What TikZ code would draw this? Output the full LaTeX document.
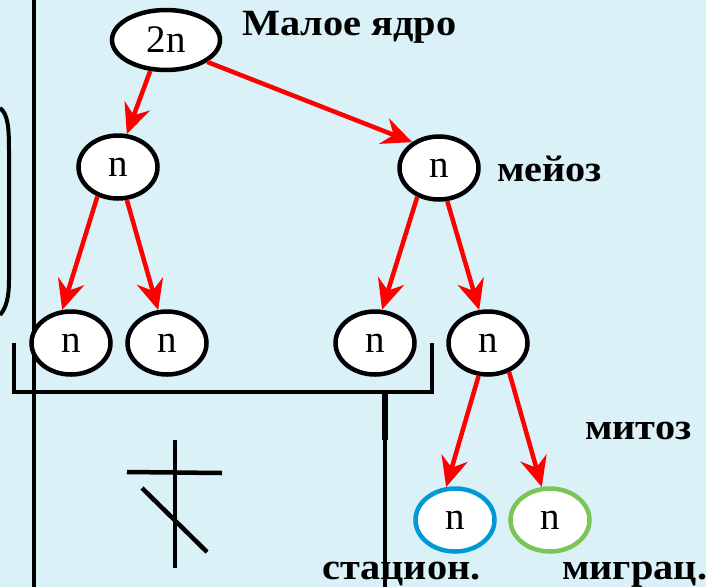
\documentclass[tikz,border=0pt]{standalone}
\usepackage{fontspec}
\setmainfont{Liberation Serif}
\newfontfamily\lblfont[FakeStretch=1.09]{Liberation Serif}
\usetikzlibrary{arrows.meta,shapes.geometric}
\definecolor{bg}{RGB}{218,242,247}
\definecolor{cblue}{RGB}{0,153,214}
\definecolor{cgreen}{RGB}{122,196,88}
\begin{document}
\begin{tikzpicture}[x=1pt,y=-1pt,
  cell/.style={ellipse, draw=black, line width=4.5pt, fill=white, minimum width=79pt, minimum height=63pt, inner sep=0pt, font=\fontsize{39}{39}\selectfont},
  arr/.style={red, line width=4.5pt, -{Stealth[length=30pt,width=27pt,inset=10pt]}},
  lbl/.style={anchor=base west, inner sep=0pt, font=\lblfont\fontsize{37}{37}\selectfont\bfseries},
  bar/.style={line width=4.5pt}]
\fill[bg] (0,0) rectangle (706,587);
\useasboundingbox (0,0) rectangle (706,587);
% left lines
\draw[line width=3.5pt] (34,0) -- (34,587);
\draw[line width=4pt] (0,108) .. controls (8,114) and (9,128) .. (9,150) -- (9,280) .. controls (9,298) and (6,308) .. (0,315);
% bracket
\draw[bar] (14,343) -- (14,392) -- (432,392) -- (432,343);
% cross
\draw[bar] (175,440) -- (175,568);
\draw[bar] (127,472) -- (222,473);
\draw[bar] (142,488) -- (207,552);
% nodes
\node[cell, minimum width=108pt, minimum height=60pt] (r) at (166,40) {2n};
\node[cell] (a) at (118,167) {n};
\node[cell] (b) at (439,168) {n};
\node[cell] (a1) at (71,343) {n};
\node[cell] (a2) at (167,343) {n};
\node[cell] (b1) at (375,343) {n};
\node[cell] (b2) at (488,343) {n};
\node[cell, draw=cblue] (c1) at (455,520) {n};
\node[cell, draw=cgreen] (c2) at (550,520) {n};
% labels
\node[lbl] (t1) at (242,35) {Малое ядро};
\node[lbl] (t2) at (497,181) {мейоз};
\node[lbl] (t3) at (585,439) {митоз};
\node[lbl] (t4) at (322,579) {стацион.};
\node[lbl] (t5) at (562,579) {миграц.};
% vertical from bracket
\draw[line width=5.5pt] (385,392) -- (385,440);
\draw[line width=4pt] (385,440) -- (385,587);
% arrows
\draw[arr] (r.243) -- (a.75);
\draw[arr] (r.-28) -- (b.136);
\draw[arr] (a.235) -- (a1.105);
\draw[arr] (a.285) -- (a2.105);
\draw[arr] (b.233) -- (b1.78);
\draw[arr] (b.284) -- (b2.105);
\draw[arr] (b2.254) -- (c1.105);
\draw[arr] (b2.306) -- (c2.104);
\end{tikzpicture}
\end{document}
